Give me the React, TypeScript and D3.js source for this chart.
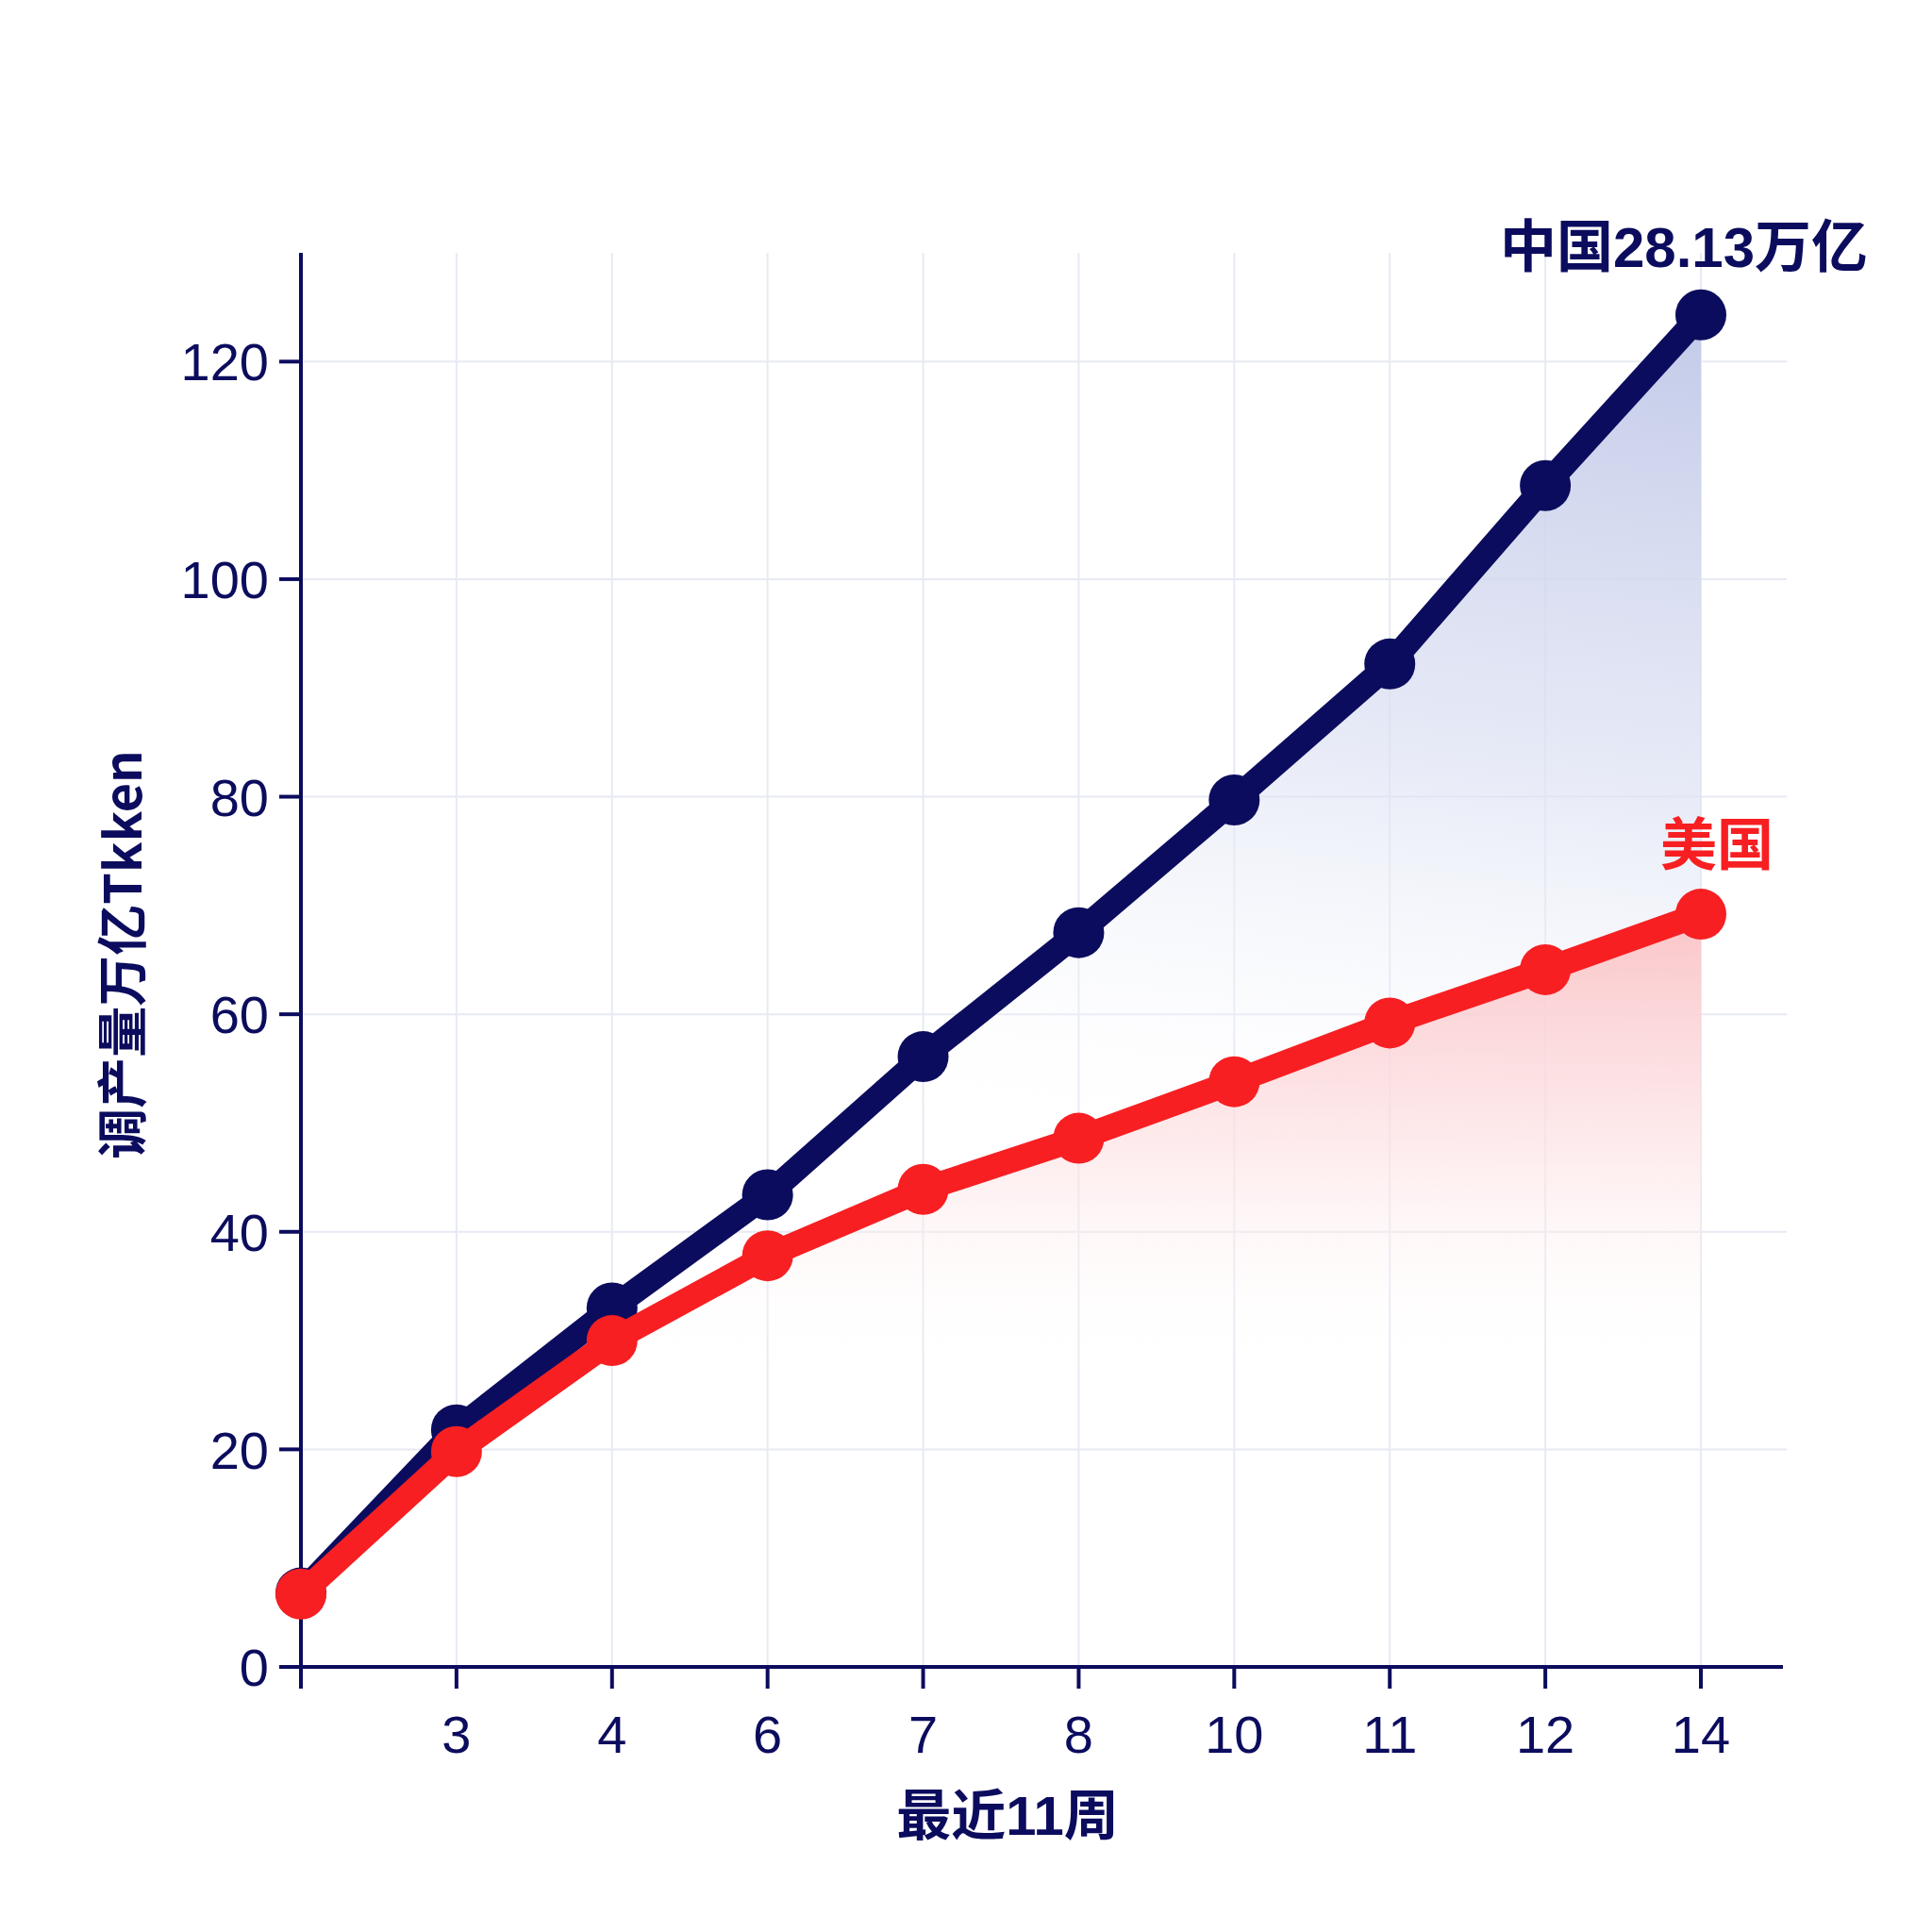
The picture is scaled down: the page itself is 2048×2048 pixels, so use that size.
import * as d3 from 'd3';

import {useMemo} from 'react';

const WIDTH = 2048;
const HEIGHT = 2048;

const weeks = ['', '3', '4', '6', '7', '8', '10', '11', '12', '14'];
const china = [6.8, 21.8, 33, 43.4, 56.1, 67.5, 79.7, 92.2, 108.6, 124.3];
const usa = [6.7, 19.8, 30, 37.8, 43.9, 48.6, 53.8, 59.2, 64.1, 69.2];
const yTicks = [0, 20, 40, 60, 80, 100, 120];

const chinaLabel = '中国28.13万亿';
const usaLabel = '美国';
const xTitle = '最近11周';
const yTitle = '调产量万亿Tkken';

const NAVY = '#0c0c5e';
const RED = '#f71f22';
const GRID = '#e7eaf3';
const FONT = '"Liberation Sans", Arial, "Noto Sans CJK SC", sans-serif';
const CJK = '"Noto Sans CJK SC", "Liberation Sans", sans-serif';

const margin = {left: 319, right: 1894, top: 268, bottom: 1767};

function App() {
  const x = useMemo(() => d3.scalePoint<string>().domain(weeks).range([margin.left, 1803]), []);
  const y = useMemo(() => d3.scaleLinear().domain([0, 130]).range([margin.bottom, margin.top]), []);

  const line = d3
    .line<number>()
    .x((_, i) => x(weeks[i])!)
    .y((d) => y(d))
    .curve(d3.curveLinear);

  const area = d3
    .area<number>()
    .x((_, i) => x(weeks[i])!)
    .y0(y(0))
    .y1((d) => y(d))
    .curve(d3.curveLinear);

  const last = weeks[weeks.length - 1];

  return (
    <svg
      width={WIDTH}
      height={HEIGHT}
      viewBox={`0 0 ${WIDTH} ${HEIGHT}`}
      style={{position: 'absolute', left: 0, top: 0, background: '#fff'}}
    >
      <defs>
        <linearGradient
          id="blueFill"
          gradientUnits="userSpaceOnUse"
          x1={x(last)}
          y1={y(124)}
          x2={x(last)! - 120}
          y2={y(40)}
        >
          <stop offset="0" stopColor="#c3cae8" stopOpacity={1} />
          <stop offset="0.5" stopColor="#dce1f3" stopOpacity={0.7} />
          <stop offset="1" stopColor="#ffffff" stopOpacity={0} />
        </linearGradient>
        <linearGradient
          id="redFill"
          gradientUnits="userSpaceOnUse"
          x1={x(last)}
          y1={y(69)}
          x2={x(last)}
          y2={y(27)}
        >
          <stop offset="0" stopColor="#fbc5c8" stopOpacity={1} />
          <stop offset="0.5" stopColor="#fde0e2" stopOpacity={0.65} />
          <stop offset="1" stopColor="#ffffff" stopOpacity={0} />
        </linearGradient>
      </defs>

      {/* grid */}
      {yTicks.slice(1).map((t) => (
        <line key={`gy${t}`} x1={margin.left} x2={margin.right} y1={y(t)} y2={y(t)} stroke={GRID} strokeWidth={2} />
      ))}
      {weeks.slice(1).map((w) => (
        <line key={`gx${w}`} x1={x(w)} x2={x(w)} y1={margin.top} y2={margin.bottom} stroke={GRID} strokeWidth={2} />
      ))}

      {/* areas */}
      <path d={area(china)!} fill="url(#blueFill)" />
      <path d={area(usa)!} fill="url(#redFill)" />

      {/* axes */}
      <line x1={margin.left} x2={margin.left} y1={margin.top} y2={margin.bottom + 23} stroke={NAVY} strokeWidth={4} />
      <line x1={margin.left - 23} x2={1890} y1={margin.bottom} y2={margin.bottom} stroke={NAVY} strokeWidth={4} />
      {yTicks.map((t) => (
        <g key={`ty${t}`}>
          <line x1={margin.left - 23} x2={margin.left} y1={y(t)} y2={y(t)} stroke={NAVY} strokeWidth={4} />
          <text
            x={285}
            y={y(t)}
            dy="0.36em"
            textAnchor="end"
            fontFamily={FONT}
            fontSize={56}
            fill={NAVY}
          >
            {t}
          </text>
        </g>
      ))}
      {weeks.map((w) => (
        <g key={`tx${w}`}>
          <line x1={x(w)} x2={x(w)} y1={margin.bottom} y2={margin.bottom + 23} stroke={NAVY} strokeWidth={4} />
          <text x={x(w)} y={1858} textAnchor="middle" fontFamily={FONT} fontSize={56} fill={NAVY}>
            {w}
          </text>
        </g>
      ))}

      {/* series */}
      <path d={line(china)!} fill="none" stroke={NAVY} strokeWidth={26} strokeLinejoin="round" strokeLinecap="round" />
      {china.map((d, i) => (
        <circle key={`c${i}`} cx={x(weeks[i])} cy={y(d)} r={27} fill={NAVY} />
      ))}
      <path d={line(usa)!} fill="none" stroke={RED} strokeWidth={26} strokeLinejoin="round" strokeLinecap="round" />
      {usa.map((d, i) => (
        <circle key={`u${i}`} cx={x(weeks[i])} cy={y(d)} r={27} fill={RED} />
      ))}

      {/* labels */}
      <text x={1785} y={283} textAnchor="middle" fontFamily={FONT} fontWeight="bold" fontSize={60} fill={NAVY}>
        {chinaLabel}
      </text>
      <text x={1820} y={917} textAnchor="middle" fontFamily={CJK} fontWeight="bold" fontSize={60} fill={RED}>
        {usaLabel}
      </text>
      <text x={1068} y={1945} textAnchor="middle" fontFamily={FONT} fontWeight="bold" fontSize={58} fill={NAVY}>
        {xTitle}
      </text>
      <text
        transform="translate(150,1012) rotate(-90)"
        textAnchor="middle"
        fontFamily={CJK}
        fontWeight={600}
        fontSize={54}
        fill={NAVY}
      >
        {yTitle}
      </text>
    </svg>
  );
}

export default App;
